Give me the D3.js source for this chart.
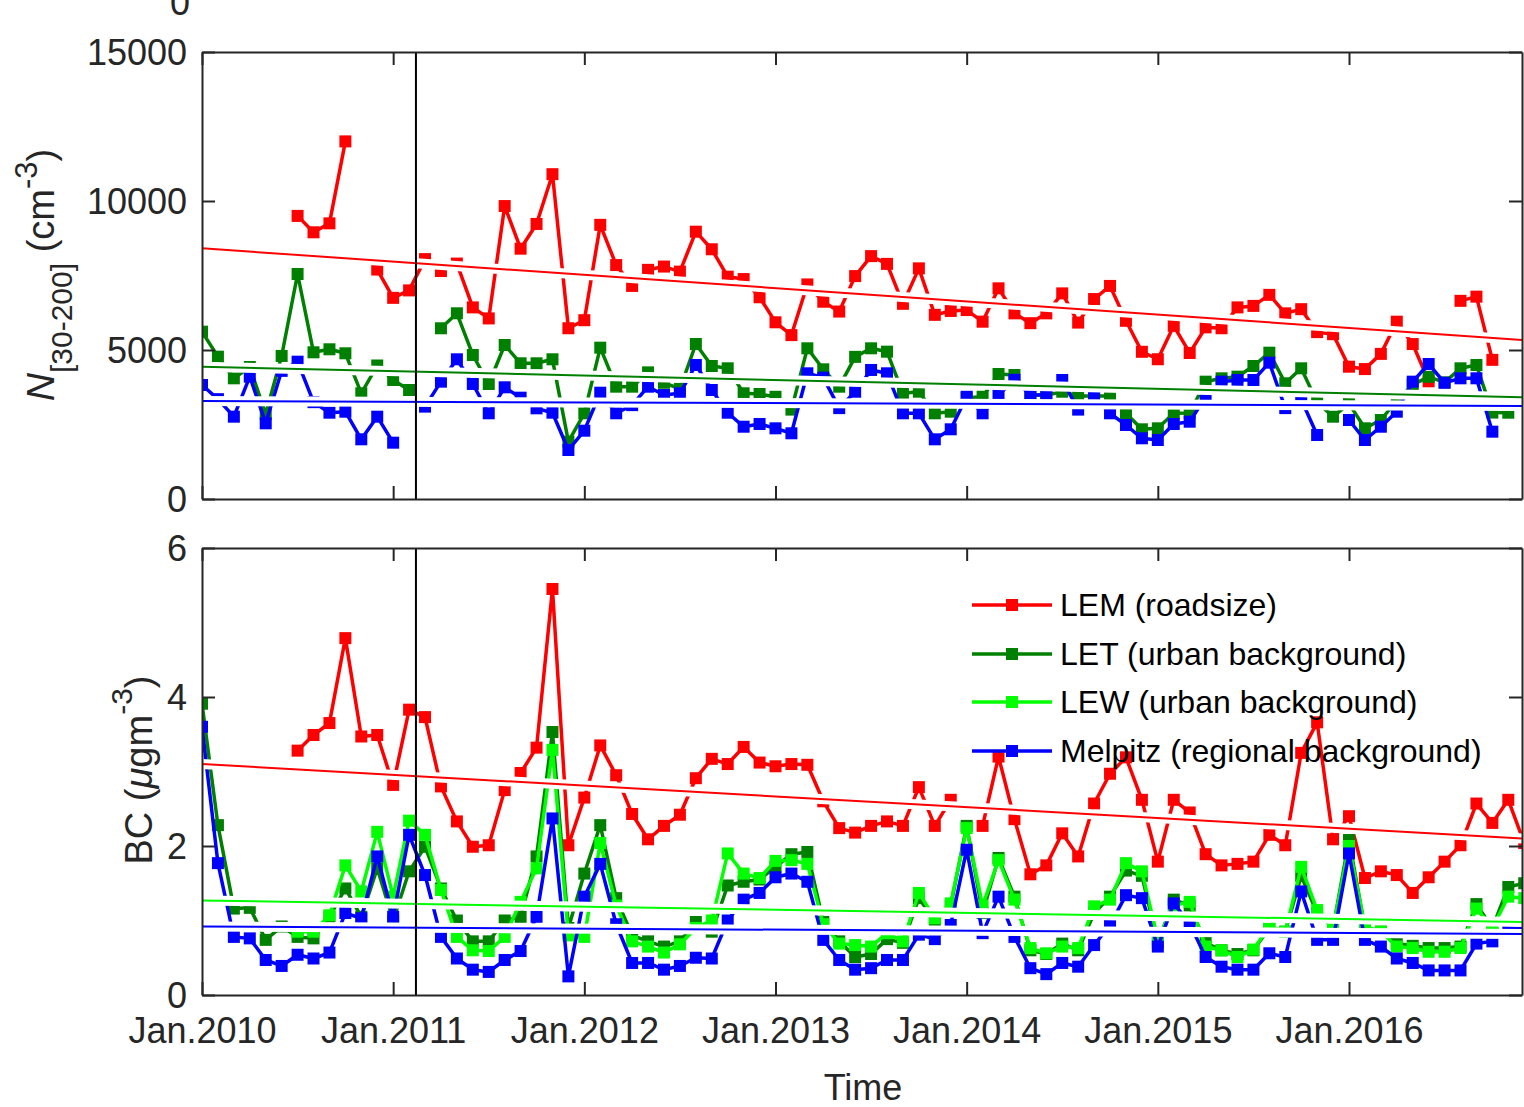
<!DOCTYPE html>
<html><head><meta charset="utf-8">
<script src="https://cdn.jsdelivr.net/npm/d3@7"></script>
<style>
body{margin:0;background:#fff}
text{font-family:"Liberation Sans",Arial,Helvetica,sans-serif}
</style>
</head><body>
<svg id="c" width="1524" height="1107"></svg>
<script>
// ---------------- DATA (monthly, index 0 = Jan 2010) ----------------
const xTickMonths = [0, 12, 24, 36, 48, 60, 72];
const xTickLabels = ["Jan.2010","Jan.2011","Jan.2012","Jan.2013","Jan.2014","Jan.2015","Jan.2016"];
const nTicks = [0, 5000, 10000, 15000];
const bcTicks = [0, 2, 4, 6];
const seriesNames = ["LEM (roadsize)", "LET (urban background)", "LEW (urban background)", "Melpitz (regional background)"];
const seriesColors = ["#ff0000", "#008000", "#00ff00", "#0000ff"];
const _ = null;

// N[30-200] (cm^-3)
const nLEM = [_,_,_,_,_,_,9500,8950,9250,12000,_,7700,6750,7000,8050,7650,7900,6430,6060,9830,
  8400,9230,10900,5730,6000,9200,7850,7150,7690,7800,7630,8970,8380,7460,7380,6770,5930,5500,7200,6620,
  6290,7480,8150,7890,6550,7740,6180,6310,6340,5950,7070,6230,5900,6230,6900,5920,6710,7150,5980,4940,
  4690,5810,4900,5760,5730,6430,6480,6850,6230,6370,5600,5530,4440,4360,4870,5950,5200,3950,_,6650,
  6790,4670,_,_];
const nLET = [5615,4776,4050,4430,2850,4800,7551,4923,5024,4890,3547,4480,3994,3658,_,5729,6232,4833,3860,5168,
  4554,4554,4688,1923,2876,5078,3769,3769,4250,3900,3700,5202,4463,4386,3547,3524,3430,3000,5057,4352,
  3769,4770,5057,4944,3547,3601,2876,2930,3400,3430,4195,4161,3490,3490,3600,3457,3457,3457,2876,2339,
  2372,2876,2886,3937,4050,4105,4463,4910,3883,4386,3250,2762,3200,2372,2651,3300,3840,4100,3915,4386,
  4497,2900,2896,_];
const nMEL = [3826,3350,2762,4105,2540,4300,4608,3250,2896,2930,2003,2762,1890,_,3100,3937,4688,3860,2876,3748,
  3400,3043,2896,1644,2292,3567,2876,3150,3769,3490,3547,4497,3658,2896,2426,2517,2372,2205,4218,4072,
  3050,3600,4330,4218,2876,2876,2003,2339,3430,2876,3490,4000,3490,3490,3994,3000,3430,2876,2484,2037,
  1980,2517,2594,3430,3937,3994,3994,4575,3050,3340,2148,_,2651,1980,2426,2930,3937,4530,3900,4050,
  4050,2259,_,_];

// BC (ug m^-3)
const bcLEM = [_,_,_,_,_,_,3.28,3.49,3.65,4.79,3.47,3.49,2.82,3.83,3.73,2.80,2.33,1.99,2.01,2.75,
  2.98,3.32,5.45,2.01,2.65,3.35,2.95,2.43,2.09,2.27,2.42,2.91,3.17,3.10,3.33,3.12,3.07,3.10,3.09,2.60,
  2.24,2.18,2.27,2.33,2.27,2.79,2.27,2.62,_,2.27,3.20,2.36,1.62,1.74,2.17,1.86,2.57,2.97,3.19,2.62,
  1.79,2.62,2.45,1.89,1.74,1.76,1.79,2.15,2.01,3.25,3.66,2.09,2.40,1.57,1.66,1.61,1.37,1.58,1.79,2.01,
  2.57,2.31,2.62,2.04];
const bcLET = [3.91,2.28,1.16,1.17,0.74,0.92,0.78,0.76,1.05,1.43,1.05,1.70,1.00,1.66,1.99,1.43,1.00,0.72,0.72,1.00,
  1.05,1.86,3.53,0.90,1.63,2.28,1.30,0.80,0.72,0.65,0.72,0.98,0.85,1.47,1.52,1.55,1.72,1.89,1.92,0.98,
  0.72,0.51,0.55,0.75,0.70,1.30,1.00,1.20,2.27,1.10,1.84,1.32,0.60,0.55,0.69,0.60,1.10,1.32,1.67,1.60,
  0.70,1.28,1.20,0.70,0.60,0.55,0.60,0.90,0.85,1.60,1.10,0.90,2.08,0.90,0.85,0.69,0.66,0.63,0.63,0.65,
  1.22,0.90,1.45,1.50];
const bcLEW = [_,_,_,_,_,_,0.85,0.85,1.07,1.74,1.39,2.19,1.32,2.34,2.15,1.41,0.78,0.60,0.59,0.78,
  1.25,1.70,3.29,0.80,0.78,2.04,1.20,0.72,0.65,0.57,0.68,0.90,1.00,1.90,1.63,1.57,1.80,1.81,1.76,0.95,
  0.69,0.67,0.65,0.83,0.72,1.37,1.03,1.23,2.24,1.20,1.81,1.28,0.63,0.56,0.65,0.63,1.19,1.28,1.77,1.66,
  0.75,1.20,1.25,0.65,0.60,0.51,0.61,0.92,0.85,1.72,1.14,0.90,2.00,0.92,0.85,0.65,0.63,0.58,0.58,0.63,
  1.16,0.90,1.32,1.30];
const bcMEL = [3.60,1.77,0.78,0.76,0.47,0.39,0.54,0.49,0.57,1.10,1.03,1.86,1.05,2.15,1.61,0.78,0.49,0.34,0.31,0.47,
  0.59,1.05,2.37,0.25,1.32,1.76,0.95,0.43,0.43,0.34,0.39,0.50,0.49,1.00,1.28,1.37,1.58,1.63,1.52,0.74,
  0.47,0.34,0.36,0.47,0.47,0.81,0.75,0.94,1.95,0.83,1.32,0.78,0.36,0.28,0.43,0.38,0.67,0.94,1.34,1.30,
  0.65,1.23,0.96,0.51,0.38,0.34,0.34,0.56,0.51,1.39,0.74,0.74,1.90,0.74,0.65,0.49,0.43,0.33,0.33,0.33,
  0.69,0.72,0.90,0.90];

// linear trend end values [start, end] over the plotted time range
const trendNLEM = [8413, 5336];
const trendNLET = [4440, 3413];
const trendNMEL = [3289, 3121];
const trendBCLEM = [3.10, 2.10];
const trendBCLEW = [1.27, 0.98];
const trendBCMEL = [0.92, 0.82];
const xRange = [0, 82.86];        // months shown
const markerMonth = 13.43;        // vertical reference line (mid Feb 2011)

// ---------------- DRAWING ----------------
const svg = d3.select("#c");
const AX = "#262626";
const MS = 12;   // marker size
const x = d3.scaleLinear().domain(xRange).range([202, 1522]);

const panels = [
  {id:"p1", top:52, bottom:499, domain:[0,15000], ticks:nTicks,
   series:[nLEM, nLET, null, nMEL],
   trends:[[trendNLEM,0],[trendNLET,1],[trendNMEL,3]], xlabels:false},
  {id:"p2", top:548, bottom:995, domain:[0,6], ticks:bcTicks,
   series:[bcLEM, bcLET, bcLEW, bcMEL],
   trends:[[trendBCLEM,0],[trendBCLEW,2],[trendBCMEL,3]], xlabels:true}
];

const defs = svg.append("defs");

panels.forEach(p => {
  const y = d3.scaleLinear().domain(p.domain).range([p.bottom, p.top]);
  defs.append("clipPath").attr("id", "clip" + p.id)
    .append("rect").attr("x", 202).attr("y", p.top).attr("width", 1320).attr("height", p.bottom - p.top);
  const g = svg.append("g").attr("clip-path", `url(#clip${p.id})`);

  const line = d3.line().defined(d => d[1] != null).x(d => x(d[0])).y(d => y(d[1]));
  p.series.forEach((s, k) => {
    if (!s) return;
    const pts = s.map((v, i) => [i, v]);
    g.append("path").attr("d", line(pts)).attr("fill", "none")
      .attr("stroke", seriesColors[k]).attr("stroke-width", 3.5).attr("stroke-linejoin", "round");
    g.selectAll(null).data(pts.filter(d => d[1] != null)).enter().append("rect")
      .attr("x", d => x(d[0]) - MS / 2).attr("y", d => y(d[1]) - MS / 2)
      .attr("width", MS).attr("height", MS).attr("fill", seriesColors[k]);
  });

  // trend lines with white halo
  p.trends.forEach(([t]) => {
    g.append("line").attr("x1", x(xRange[0])).attr("x2", x(xRange[1]))
      .attr("y1", y(t[0])).attr("y2", y(t[1])).attr("stroke", "#fff").attr("stroke-width", 10);
  });
  p.trends.forEach(([t, k]) => {
    g.append("line").attr("x1", x(xRange[0])).attr("x2", x(xRange[1]))
      .attr("y1", y(t[0])).attr("y2", y(t[1])).attr("stroke", seriesColors[k]).attr("stroke-width", 2);
  });

  // vertical reference line
  g.append("line").attr("x1", x(markerMonth)).attr("x2", x(markerMonth))
    .attr("y1", p.top).attr("y2", p.bottom).attr("stroke", "#000").attr("stroke-width", 2);

  // axes (MATLAB box style, inward ticks)
  const styleAxis = sel => {
    sel.select(".domain").attr("stroke", AX).attr("stroke-width", 2);
    sel.selectAll(".tick line").attr("stroke", AX).attr("stroke-width", 2);
    sel.selectAll(".tick text").attr("fill", AX).attr("font-size", 36)
      .attr("font-family", '"Liberation Sans", Arial, sans-serif');
  };
  svg.append("g").attr("transform", "translate(202,0)")
    .call(d3.axisLeft(y).tickValues(p.ticks).tickSize(-13).tickSizeOuter(0).tickPadding(15).tickFormat(d3.format("d")))
    .call(styleAxis).call(s => s.selectAll(".tick text").attr("dy", "0.35em"));
  svg.append("g").attr("transform", "translate(1522,0)")
    .call(d3.axisRight(y).tickValues(p.ticks).tickSize(-13).tickSizeOuter(0).tickFormat(""))
    .call(styleAxis);
  svg.append("g").attr("transform", `translate(0,${p.bottom})`)
    .call(d3.axisBottom(x).tickValues(xTickMonths).tickSize(-13).tickSizeOuter(0).tickPadding(22)
      .tickFormat((d, i) => p.xlabels ? xTickLabels[i] : ""))
    .call(styleAxis);
  svg.append("g").attr("transform", `translate(0,${p.top})`)
    .call(d3.axisTop(x).tickValues(xTickMonths).tickSize(-13).tickSizeOuter(0).tickFormat(""))
    .call(styleAxis);
});

// cut-off glyph at very top (remnant above the top axis, as in the source image)
svg.append("text").attr("x", 190).attr("y", 15).attr("text-anchor", "end")
  .attr("font-size", 36).attr("fill", AX).text("0");

// x-axis title
svg.append("text").attr("x", 863).attr("y", 1100).attr("text-anchor", "middle")
  .attr("font-size", 36).attr("fill", AX).text("Time");

// y label, top panel
const yl1 = svg.append("text").attr("transform", "translate(54,275) rotate(-90)")
  .attr("text-anchor", "middle").attr("fill", AX).attr("font-size", 38);
yl1.append("tspan").attr("font-style", "italic").attr("font-size", 39).text("N");
yl1.append("tspan").attr("font-size", 30).attr("dy", 18).text("[30-200]");
yl1.append("tspan").attr("dy", -18).text("\u00a0(cm");
yl1.append("tspan").attr("font-size", 31).attr("dy", -17).text("-3");
yl1.append("tspan").attr("dy", 17).text(")");

// y label, bottom panel
const yl2 = svg.append("text").attr("transform", "translate(152,770) rotate(-90)")
  .attr("text-anchor", "middle").attr("fill", AX).attr("font-size", 38);
yl2.append("tspan").text("BC (");
yl2.append("tspan").attr("font-style", "italic").text("\u03bc");
yl2.append("tspan").text("gm");
yl2.append("tspan").attr("font-size", 30).attr("dy", -20).text("-3");
yl2.append("tspan").attr("dy", 20).text(")");

// legend
const legRows = [605, 654, 702, 751];
const leg = svg.append("g");
seriesNames.forEach((nm, k) => {
  const yy = legRows[k];
  leg.append("line").attr("x1", 972).attr("x2", 1052).attr("y1", yy).attr("y2", yy)
    .attr("stroke", seriesColors[k]).attr("stroke-width", 3.5);
  leg.append("rect").attr("x", 1012 - MS / 2).attr("y", yy - MS / 2).attr("width", MS).attr("height", MS)
    .attr("fill", seriesColors[k]);
  leg.append("text").attr("x", 1060).attr("y", yy + 11).attr("font-size", 32).attr("fill", "#000").text(nm);
});
</script>
</body></html>
